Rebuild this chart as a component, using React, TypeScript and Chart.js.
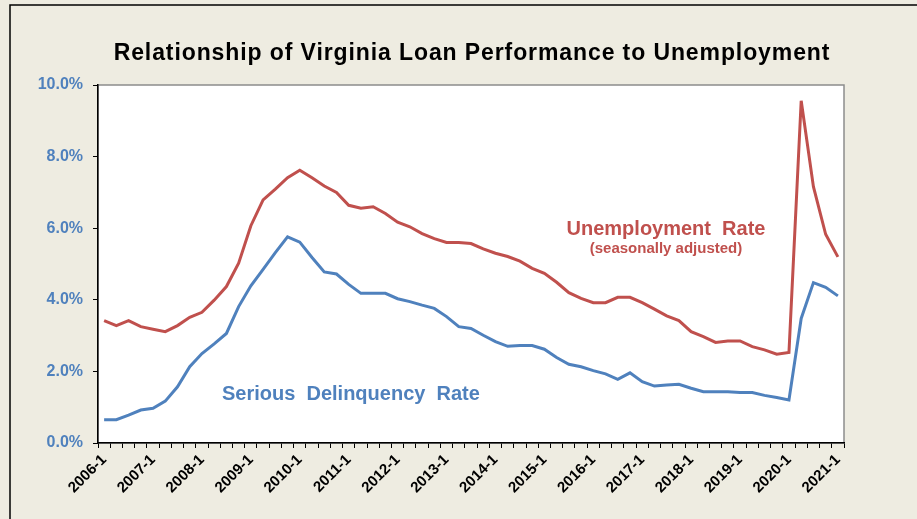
import React, { useEffect, useRef } from "react";
import { Chart, registerables } from "chart.js";

Chart.register(...registerables);

// ---- Data ----
const years = [2006, 2007, 2008, 2009, 2010, 2011, 2012, 2013, 2014, 2015, 2016, 2017, 2018, 2019, 2020, 2021];
const quarterNums = [1, 2, 3, 4];
const quarters: string[] = years
  .flatMap((y) => quarterNums.map((q) => `${y}-${q}`))
  .slice(0, 61);

const unemploymentRate = [
  3.42, 3.28, 3.42, 3.25, 3.18, 3.11, 3.28, 3.51, 3.65, 3.99, 4.37, 5.02,
  6.07, 6.79, 7.09, 7.41, 7.62, 7.41, 7.18, 7.0, 6.64, 6.56, 6.6, 6.41,
  6.17, 6.04, 5.85, 5.71, 5.6, 5.6, 5.57, 5.42, 5.3, 5.21, 5.08, 4.88,
  4.74, 4.49, 4.2, 4.04, 3.92, 3.92, 4.07, 4.07, 3.92, 3.74, 3.55, 3.42,
  3.11, 2.97, 2.81, 2.85, 2.85, 2.69, 2.6, 2.48, 2.53, 9.56, 7.16, 5.83,
  5.2,
];

const seriousDelinquencyRate = [
  0.65, 0.65, 0.78, 0.92, 0.97, 1.17, 1.57, 2.13, 2.5, 2.77, 3.06, 3.81,
  4.39, 4.85, 5.32, 5.76, 5.61, 5.18, 4.78, 4.72, 4.43, 4.18, 4.18, 4.18,
  4.03, 3.95, 3.85, 3.76, 3.53, 3.25, 3.2, 3.01, 2.83, 2.7, 2.72, 2.72,
  2.62, 2.39, 2.2, 2.13, 2.02, 1.93, 1.78, 1.96, 1.71, 1.59, 1.62, 1.64,
  1.53, 1.43, 1.43, 1.43, 1.41, 1.41, 1.33, 1.27, 1.2, 3.48, 4.48, 4.35,
  4.11,
];

const yMin = 0;
const yMax = 10;
const yStep = 2;

const titleText = "Relationship of Virginia Loan Performance to Unemployment";
const unempLabel = "Unemployment  Rate";
const unempSubLabel = "(seasonally adjusted)";
const delinqLabel = "Serious  Delinquency  Rate";

const RED = "#C0504D";
const BLUE = "#4F81BD";
const FONT = '"Liberation Sans", Arial, Helvetica, sans-serif';

const W = 917;
const H = 519;

const decorPlugin = {
  id: "decor",
  beforeDraw(chart: any) {
    const { ctx, chartArea } = chart;
    ctx.save();
    // outer frame lines
    ctx.strokeStyle = "#000";
    ctx.lineWidth = 1.5;
    ctx.beginPath();
    ctx.moveTo(10, H);
    ctx.lineTo(10, 5);
    ctx.lineTo(W, 5);
    ctx.stroke();
    // plot area
    ctx.fillStyle = "#FFFFFF";
    ctx.fillRect(chartArea.left, chartArea.top, chartArea.right - chartArea.left, chartArea.bottom - chartArea.top);
    ctx.strokeStyle = "#8C8C8C";
    ctx.lineWidth = 1.5;
    ctx.strokeRect(chartArea.left, chartArea.top, chartArea.right - chartArea.left, chartArea.bottom - chartArea.top);
    // title
    ctx.fillStyle = "#000";
    ctx.font = `bold 23px ${FONT}`;
    ctx.textAlign = "center";
    ctx.textBaseline = "alphabetic";
    try {
      (ctx as any).letterSpacing = "0.9px";
    } catch (e) {}
    ctx.fillText(titleText, 472, 60);
    try {
      (ctx as any).letterSpacing = "0px";
    } catch (e) {}
    ctx.restore();
  },
  afterDraw(chart: any) {
    const { ctx } = chart;
    ctx.save();
    ctx.textBaseline = "alphabetic";
    ctx.fillStyle = RED;
    ctx.textAlign = "center";
    ctx.font = `bold 20px ${FONT}`;
    ctx.fillText(unempLabel, 666, 235);
    ctx.font = `bold 15px ${FONT}`;
    ctx.fillText(unempSubLabel, 666, 253);
    ctx.fillStyle = BLUE;
    ctx.textAlign = "left";
    ctx.font = `bold 20px ${FONT}`;
    ctx.fillText(delinqLabel, 222, 400);
    ctx.restore();
  },
};

export default function App() {
  const canvasRef = useRef<HTMLCanvasElement | null>(null);

  useEffect(() => {
    if (!canvasRef.current) return;
    const chart = new Chart(canvasRef.current, {
      type: "line",
      data: {
        labels: quarters,
        datasets: [
          {
            label: "Unemployment Rate",
            data: unemploymentRate,
            borderColor: RED,
            backgroundColor: RED,
            borderWidth: 3,
            pointRadius: 0,
            tension: 0,
            fill: false,
          },
          {
            label: "Serious Delinquency Rate",
            data: seriousDelinquencyRate,
            borderColor: BLUE,
            backgroundColor: BLUE,
            borderWidth: 3,
            pointRadius: 0,
            tension: 0,
            fill: false,
          },
        ],
      },
      options: {
        responsive: false,
        animation: false,
        devicePixelRatio: 1,
        layout: { padding: { left: 0, top: 85, right: 73, bottom: 0 } },
        plugins: {
          legend: { display: false },
          tooltip: { enabled: false },
          title: { display: false },
        },
        scales: {
          x: {
            type: "category",
            offset: true,
            grid: {
              offset: true,
              drawOnChartArea: false,
              drawTicks: true,
              tickLength: 5,
              color: "#000",
              lineWidth: 1,
            },
            border: { color: "#000", width: 1.5 },
            ticks: {
              autoSkip: false,
              minRotation: 45,
              maxRotation: 45,
              color: "#000",
              padding: 3,
              font: { family: FONT, weight: "bold", size: 15 },
              callback: (_v: any, i: number) => (quarters[i].endsWith("-1") ? quarters[i] : ""),
            },
            afterFit: (s: any) => {
              s.height = 76;
            },
          },
          y: {
            min: yMin,
            max: yMax,
            grid: {
              drawOnChartArea: false,
              drawTicks: true,
              tickLength: 5,
              color: "#000",
            },
            border: { color: "#000", width: 1.5 },
            ticks: {
              stepSize: yStep,
              color: BLUE,
              padding: 10,
              font: { family: FONT, weight: "bold", size: 16 },
              callback: (v: any) => Number(v).toFixed(1) + "%",
            },
            afterFit: (s: any) => {
              s.width = 98;
            },
          },
        },
      },
      plugins: [decorPlugin],
    });
    return () => chart.destroy();
  }, []);

  return (
    <div
      style={{
        position: "absolute",
        left: 0,
        top: 0,
        width: W,
        height: H,
        background: "#EEECE1",
        overflow: "hidden",
      }}
    >
      <canvas ref={canvasRef} width={W} height={H} style={{ width: W, height: H, display: "block" }} />
    </div>
  );
}
